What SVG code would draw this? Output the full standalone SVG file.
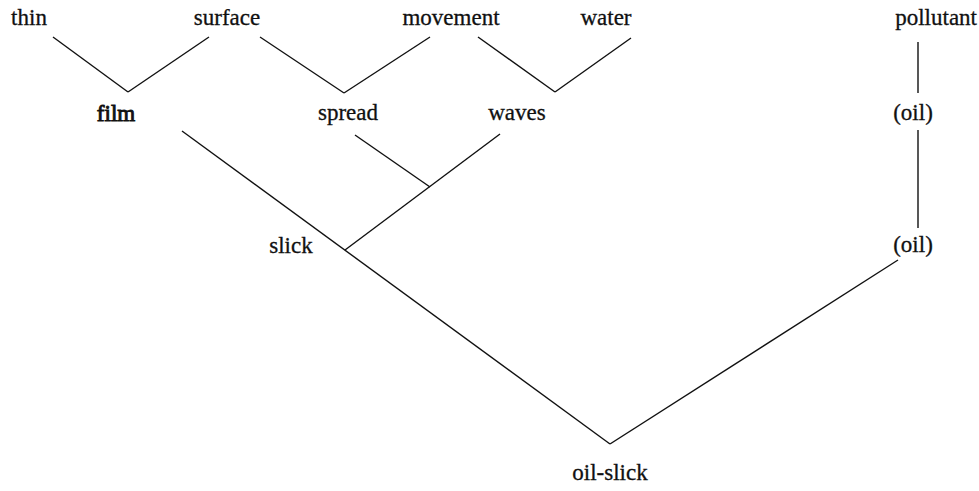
<svg xmlns="http://www.w3.org/2000/svg" width="979" height="491" viewBox="0 0 979 491">
<style>
.t{font-family:"Liberation Serif","Times New Roman",serif;font-size:23px;fill:#111;stroke:#111;stroke-width:0.3;text-anchor:middle}
.b{stroke-width:0.9}
.c line{stroke:#111;stroke-width:1.4;fill:none}
</style>
<rect width="979" height="491" fill="#fff"/>
<g class="c" id="connectors">
<line x1="53" y1="37" x2="128" y2="92"/>
<line x1="209" y1="37" x2="128" y2="92"/>
<line x1="260" y1="37" x2="344" y2="93"/>
<line x1="430" y1="37" x2="344" y2="93"/>
<line x1="478" y1="37" x2="555" y2="92"/>
<line x1="631" y1="38" x2="555" y2="92"/>
<line x1="918" y1="42" x2="918" y2="93"/>
<line x1="918" y1="130" x2="918" y2="228"/>
<line x1="355" y1="135" x2="430" y2="187"/>
<line x1="500" y1="134" x2="345" y2="250"/>
<line x1="182" y1="131" x2="610" y2="444"/>
<line x1="898" y1="260" x2="610" y2="444"/>
</g>
<g id="thin"><text class="t" x="29" y="25">thin</text></g>
<g id="surface"><text class="t" x="227" y="25">surface</text></g>
<g id="movement"><text class="t" x="451" y="25">movement</text></g>
<g id="water"><text class="t" x="606" y="25">water</text></g>
<g id="pollutant"><text class="t" x="977" y="25" style="text-anchor:end">pollutant</text></g>
<g id="film"><text class="t b" x="116" y="121">film</text></g>
<g id="spread"><text class="t" x="348" y="120">spread</text></g>
<g id="waves"><text class="t" x="517" y="120">waves</text></g>
<g id="oil1"><text class="t" x="913" y="120">(oil)</text></g>
<g id="slick"><text class="t" x="291" y="253">slick</text></g>
<g id="oil2"><text class="t" x="913" y="252">(oil)</text></g>
<g id="oil-slick"><text class="t" x="610" y="480">oil-slick</text></g>
</svg>
